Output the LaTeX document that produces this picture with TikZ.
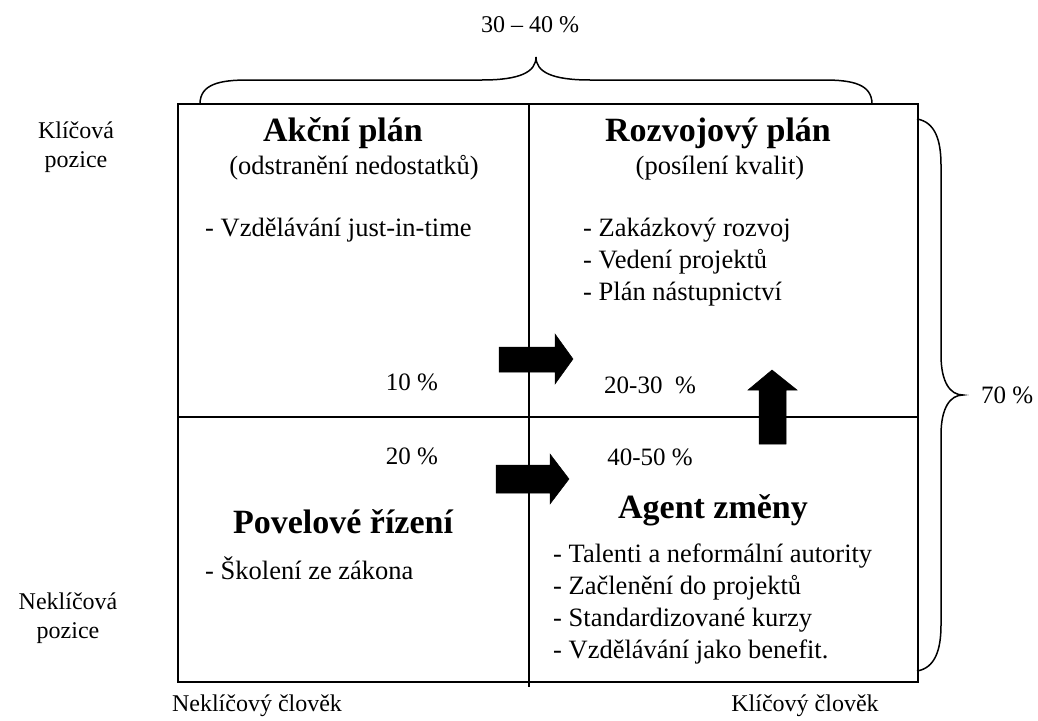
\documentclass[tikz,border=0pt]{standalone}
\usepackage{fontspec}
\setmainfont{Liberation Serif}
\begin{document}
\begin{tikzpicture}[x=1pt,y=-1pt,
  txt/.style={inner sep=0pt,font=\fontsize{24}{29}\selectfont},
  body/.style={inner sep=0pt,font=\fontsize{26.5}{31}\selectfont},
  pct/.style={inner sep=0pt,font=\fontsize{25}{30}\selectfont},
  head/.style={inner sep=0pt,font=\fontsize{34}{40}\selectfont\bfseries},
  item/.style={body,anchor=base west},
  frame/.style={line width=2pt},
  divider/.style={line width=1.5pt},
  bracestyle/.style={line width=1.5pt},
  blockarrow/.style={fill=black,draw=black,line width=0.5pt}]
\useasboundingbox (0,0) rectangle (1038,720);
% frame
\draw[frame] (178,104) rectangle (918,682);
\draw[divider] (178,417) -- (918,417);
\draw[divider] (529,104) -- (529,687);
% top brace
\draw[bracestyle] (200,104) .. controls (200,84) and (220,80) .. (248,80) -- (482,80)
  .. controls (520,80) and (536,72) .. (536,57)
  .. controls (536,72) and (552,80) .. (590,80) -- (824,80)
  .. controls (852,80) and (872,84) .. (872,104);
\node[txt] (top) at (530,25) {30 -- 40 \%};
% right brace
\draw[bracestyle] (917,119) .. controls (935,122) and (941,140) .. (941,165) -- (941,355)
  .. controls (941,382) and (950,395) .. (963,395)
  .. controls (950,395) and (941,408) .. (941,435) -- (941,625)
  .. controls (941,650) and (935,668) .. (917,671);
\node[pct,anchor=west] (seventy) at (981,395) {70 \%};
% axis labels
\node[txt,align=center] (kp) at (76,147) {Klíčová\\pozice};
\node[txt,align=center] (nkp) at (68,618) {Neklíčová\\pozice};
\node[txt] (nkc) at (257,706) {Neklíčový člověk};
\node[txt] (kc) at (805,706) {Klíčový člověk};
% quadrant top-left
\node[head] (ap) at (343,133) {Akční plán};
\node[body] (ap2) at (354,168) {(odstranění nedostatků)};
\node[item] (ap3) at (205,236) {- Vzdělávání just-in-time};
\node[pct] (p10) at (412,382) {10 \%};
% quadrant top-right
\node[head] (rp) at (718,133) {Rozvojový plán};
\node[body] (rp2) at (720,168) {(posílení kvalit)};
\node[item] (rp3) at (583,236) {- Zakázkový rozvoj};
\node[item] (rp4) at (583,268) {- Vedení projektů};
\node[item] (rp5) at (583,300) {- Plán nástupnictví};
\node[pct] (p2030) at (650,385) {20-30~~\%};
% quadrant bottom-left
\node[pct] (p20) at (412,456) {20 \%};
\node[head] (pr) at (343,522) {Povelové řízení};
\node[item] (pr2) at (205,579) {- Školení ze zákona};
% quadrant bottom-right
\node[pct] (p4050) at (650,457) {40-50 \%};
\node[head] (az) at (713,510) {Agent změny};
\node[item] (az1) at (553,562) {- Talenti a neformální autority};
\node[item] (az2) at (553,594) {- Začlenění do projektů};
\node[item] (az3) at (553,626) {- Standardizované kurzy};
\node[item] (az4) at (553,658) {- Vzdělávání jako benefit.};
% block arrows
\fill[blockarrow] (499,347) -- (555,347) -- (555,334) -- (573,359) -- (555,384) -- (555,372) -- (499,372) -- cycle;
\fill[blockarrow] (496,465) -- (550,465) -- (550,454) -- (569,479) -- (550,504) -- (550,493) -- (496,493) -- cycle;
\fill[blockarrow] (759,444) -- (759,390) -- (748,390) -- (772,370) -- (797,390) -- (786,390) -- (786,444) -- cycle;
\end{tikzpicture}
\end{document}
